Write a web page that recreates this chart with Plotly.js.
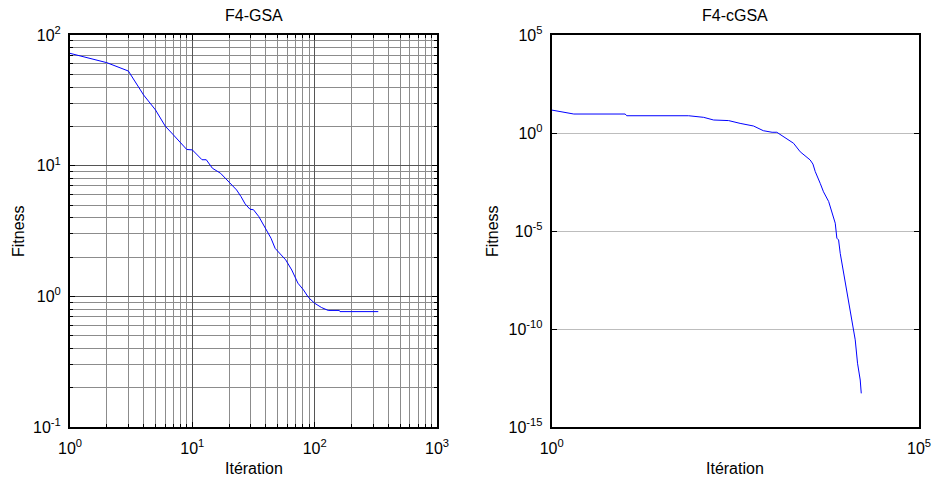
<!DOCTYPE html>
<html>
<head>
<meta charset="utf-8">
<script src="https://cdn.plot.ly/plotly-3.0.1.min.js"></script>
<style>html,body{margin:0;padding:0;background:#fff;}#chart{width:933px;height:481px;}</style>
</head>
<body>
<div id="chart"></div>
<script>
// GSA curve (left)
const gsaIter = [1,2,3,4,5,6,7,9,10,12,13,14.6,17,20,23,25,27,29.6,31.6,35,40,44,47.5,52,58,65,73,81,89,100,114,129,159,161,331];
const gsaFit  = [72.4,61.4,53,34.7,26.7,20.1,17.2,13.3,13.2,11.1,11.1,9.55,8.75,7.41,6.52,5.8,5.1,4.64,4.6,4.07,3.22,2.78,2.33,2.14,1.9,1.59,1.26,1.12,0.98,0.885,0.82,0.78,0.78,0.764,0.764];
// cGSA curve (right)
const cgsaIter = [1,2,10,10.5,73,117,160,256,367,560,760,1000,1160,1510,1960,2415,3300,3600,3870,4520,5010,5890,6530,7240,7620,8040,8470,9400,10440,11590,12600,13550,14560,15850,16370];
const cgsaFit  = [14.8,9.3,9.3,7.6,7.6,6.3,4.6,4.3,3.1,2.27,1.31,1.09,1.09,0.54,0.30,0.11,0.042,0.026,0.0107,2.7e-3,1.0e-3,3.2e-4,9.5e-5,2.5e-5,4.3e-6,3.5e-6,7.2e-7,6.9e-8,9.8e-9,9.3e-10,1.0e-10,2.8e-11,1.8e-12,2.5e-13,5.2e-14];

// tick labels
const leftXVals = [1,10,100,1000];
const leftXText = ['10<sup>0</sup>','10<sup>1</sup>','10<sup>2</sup>','10<sup>3</sup>'];
const leftYVals = [0.1,1,10,100];
const leftYText = ['10<sup>-1</sup>','10<sup>0</sup>','10<sup>1</sup>','10<sup>2</sup>'];
const rightXVals = [1,1e5];
const rightXText = ['10<sup>0</sup>','10<sup>5</sup>'];
const rightYVals = [1e-15,1e-10,1e-5,1,1e5];
const rightYText = ['10<sup>-15</sup>','10<sup>-10</sup>','10<sup>-5</sup>','10<sup>0</sup>','10<sup>5</sup>'];
const titles = ['F4-GSA','F4-cGSA'];
const xLabel = 'Itération';
const yLabel = 'Fitness';

function minorVals(lo, hi){
  const out=[];
  for(let e=lo;e<hi;e++){for(let m=2;m<=9;m++){out.push(m*Math.pow(10,e));}}
  return out;
}

const W=933,H=481;
const L1=70/W, R1=437/W, L2=551.7/W, R2=919/W;
const T=1-35/H, B=1-427/H;
const FAM='Liberation Sans, Arial, sans-serif';
const font={family:FAM, size:16, color:'#000'};

const base = {
  type:'log', showline:true, linecolor:'#000', linewidth:2, mirror:'allticks',
  ticks:'inside', ticklen:5, tickwidth:1, tickcolor:'#000', tickmode:'array',
  zeroline:false, tickfont:font
};

const traces=[
  {x:gsaIter,y:gsaFit,type:'scatter',mode:'lines',line:{color:'#0000ff',width:1},xaxis:'x',yaxis:'y',showlegend:false},
  {x:cgsaIter,y:cgsaFit,type:'scatter',mode:'lines',line:{color:'#0000ff',width:1},xaxis:'x2',yaxis:'y2',showlegend:false}
];

const layout={
  width:W,height:H,margin:{l:0,r:0,t:0,b:0},paper_bgcolor:'#fff',plot_bgcolor:'#fff',
  font:font, showlegend:false,
  xaxis:Object.assign({},base,{domain:[L1,R1],anchor:'y',range:[0,3],tickvals:leftXVals,ticktext:leftXText,ticklabelstandoff:6,
    showgrid:true,gridcolor:'#555',gridwidth:1,
    minor:{tickmode:'array',tickvals:minorVals(0,3),ticks:'inside',ticklen:3,tickcolor:'#000',showgrid:true,gridcolor:'#8c8c8c',gridwidth:1}}),
  yaxis:Object.assign({},base,{domain:[B,T],anchor:'x',range:[-1,2],tickvals:leftYVals,ticktext:leftYText,ticklabelstandoff:4,
    showgrid:true,gridcolor:'#555',gridwidth:1,
    minor:{tickmode:'array',tickvals:minorVals(-1,2),ticks:'inside',ticklen:3,tickcolor:'#000',showgrid:true,gridcolor:'#8c8c8c',gridwidth:1}}),
  xaxis2:Object.assign({},base,{domain:[L2,R2],anchor:'y2',range:[0,5],tickvals:rightXVals,ticktext:rightXText,ticklabelstandoff:6,showgrid:false}),
  yaxis2:Object.assign({},base,{domain:[B,T],anchor:'x2',range:[-15,5],tickvals:rightYVals,ticktext:rightYText,ticklabelstandoff:4,
    showgrid:true,gridcolor:'#bdbdbd',gridwidth:1}),
  annotations:[
    {text:titles[0],x:(L1+R1)/2,y:1-15/H,xref:'paper',yref:'paper',showarrow:false,xanchor:'center',yanchor:'middle',font:{family:FAM,size:16,color:'#000'}},
    {text:titles[1],x:(L2+R2)/2,y:1-15/H,xref:'paper',yref:'paper',showarrow:false,xanchor:'center',yanchor:'middle',font:{family:FAM,size:16,color:'#000'}},
    {text:xLabel,x:(L1+R1)/2,y:1-468/H,xref:'paper',yref:'paper',showarrow:false,xanchor:'center',yanchor:'middle',font:{family:FAM,size:16,color:'#000'}},
    {text:xLabel,x:(L2+R2)/2,y:1-468/H,xref:'paper',yref:'paper',showarrow:false,xanchor:'center',yanchor:'middle',font:{family:FAM,size:16,color:'#000'}},
    {text:yLabel,x:18/W,y:(B+T)/2,xref:'paper',yref:'paper',showarrow:false,textangle:-90,xanchor:'center',yanchor:'middle',font:{family:FAM,size:16,color:'#000'}},
    {text:yLabel,x:492/W,y:(B+T)/2,xref:'paper',yref:'paper',showarrow:false,textangle:-90,xanchor:'center',yanchor:'middle',font:{family:FAM,size:16,color:'#000'}}
  ]
};

Plotly.newPlot('chart',traces,layout,{staticPlot:true,displayModeBar:false});
</script>
</body>
</html>
